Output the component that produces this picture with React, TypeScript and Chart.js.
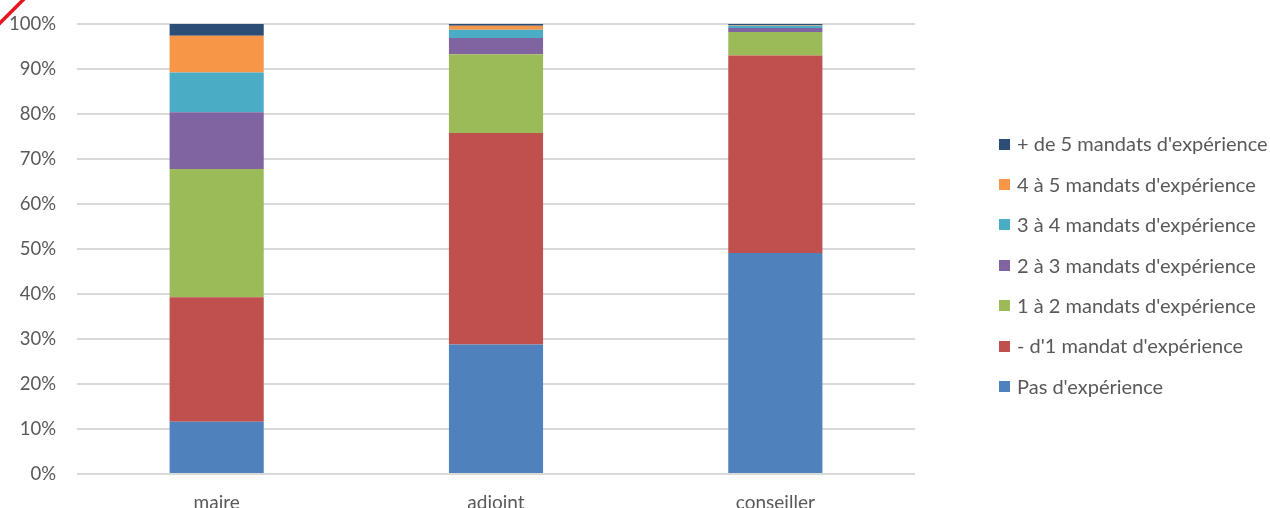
import React, { useEffect, useRef } from "react";
import { Chart, registerables } from "chart.js";

Chart.register(...registerables);

const categories = ["maire", "adjoint", "conseiller"];
const seriesNames = [
  "Pas d'expérience",
  "- d'1 mandat d'expérience",
  "1 à 2 mandats d'expérience",
  "2 à 3 mandats d'expérience",
  "3 à 4 mandats d'expérience",
  "4 à 5 mandats d'expérience",
  "+ de 5 mandats d'expérience",
];
const pasExperience = [11.6, 28.8, 49.1];
const moinsUnMandat = [27.7, 47.0, 43.9];
const unADeux = [28.5, 17.5, 5.2];
const deuxATrois = [12.6, 3.6, 0.9];
const troisAQuatre = [8.8, 1.8, 0.5];
const quatreACinq = [8.2, 0.9, 0.1];
const plusDeCinq = [2.6, 0.4, 0.3];
const seriesValues = [pasExperience, moinsUnMandat, unADeux, deuxATrois, troisAQuatre, quatreACinq, plusDeCinq];
const seriesColors = ["#4F81BD", "#C0504D", "#9BBB59", "#8064A2", "#4BACC6", "#F79646", "#2C4D75"];

const FONT = "Lato, 'Open Sans', sans-serif";
const TEXT = "#595959";

const legendPlugin = {
  id: "customLegend",
  afterDraw(chart: any) {
    const ctx = chart.ctx;
    const ds = chart.data.datasets;
    ctx.save();
    ctx.font = `20px ${FONT}`;
    ctx.textBaseline = "middle";
    ctx.textAlign = "left";
    const n = ds.length;
    for (let i = 0; i < n; i++) {
      const d = ds[n - 1 - i];
      const y = 144 + i * 40.4;
      ctx.fillStyle = d.backgroundColor;
      ctx.fillRect(999, Math.round(y - 5.5), 11, 11);
      ctx.fillStyle = TEXT;
      ctx.fillText(d.label, 1017, y + 1);
    }
    // red corner mark
    ctx.strokeStyle = "#E8141E";
    ctx.lineWidth = 3.5;
    ctx.beginPath();
    ctx.moveTo(-2, 25);
    ctx.lineTo(25, -2);
    ctx.stroke();
    ctx.restore();
  },
};

export default function App() {
  const ref = useRef<HTMLCanvasElement>(null);
  useEffect(() => {
    document.body.style.margin = "0";
    const chart = new Chart(ref.current as HTMLCanvasElement, {
      type: "bar",
      data: {
        labels: categories,
        datasets: seriesNames.map((name, i) => ({
          label: name,
          data: seriesValues[i],
          backgroundColor: seriesColors[i],
          borderWidth: 0,
          categoryPercentage: 1,
          barPercentage: 0.337,
        })),
      },
      options: {
        animation: false,
        responsive: false,
        maintainAspectRatio: false,
        layout: { padding: { top: 24, right: 355, left: 0, bottom: 0 } },
        plugins: { legend: { display: false }, tooltip: { enabled: false } },
        scales: {
          x: {
            stacked: true,
            grid: { display: false, drawTicks: false },
            border: { display: false },
            ticks: { color: TEXT, font: { family: FONT, size: 19 }, padding: 17 },
            afterFit: (s: any) => {
              s.height = 34;
              s.paddingLeft = 0;
              s.paddingRight = 0;
            },
          },
          y: {
            stacked: true,
            min: 0,
            max: 100,
            grid: { color: "#d9d9d9", lineWidth: 2, drawTicks: false },
            border: { display: false },
            ticks: {
              stepSize: 10,
              color: TEXT,
              font: { family: FONT, size: 18.5 },
              padding: 21,
              callback: (v: any) => `${v}%`,
            },
            afterFit: (s: any) => {
              s.width = 77;
              s.paddingTop = 0;
              s.paddingBottom = 0;
            },
          },
        },
      },
      plugins: [legendPlugin],
    });
    return () => chart.destroy();
  }, []);
  return (
    <div style={{ position: "absolute", left: 0, top: 0, width: 1270, height: 508 }}>
      <canvas ref={ref} width={1270} height={508} style={{ width: 1270, height: 508, display: "block" }} />
    </div>
  );
}
